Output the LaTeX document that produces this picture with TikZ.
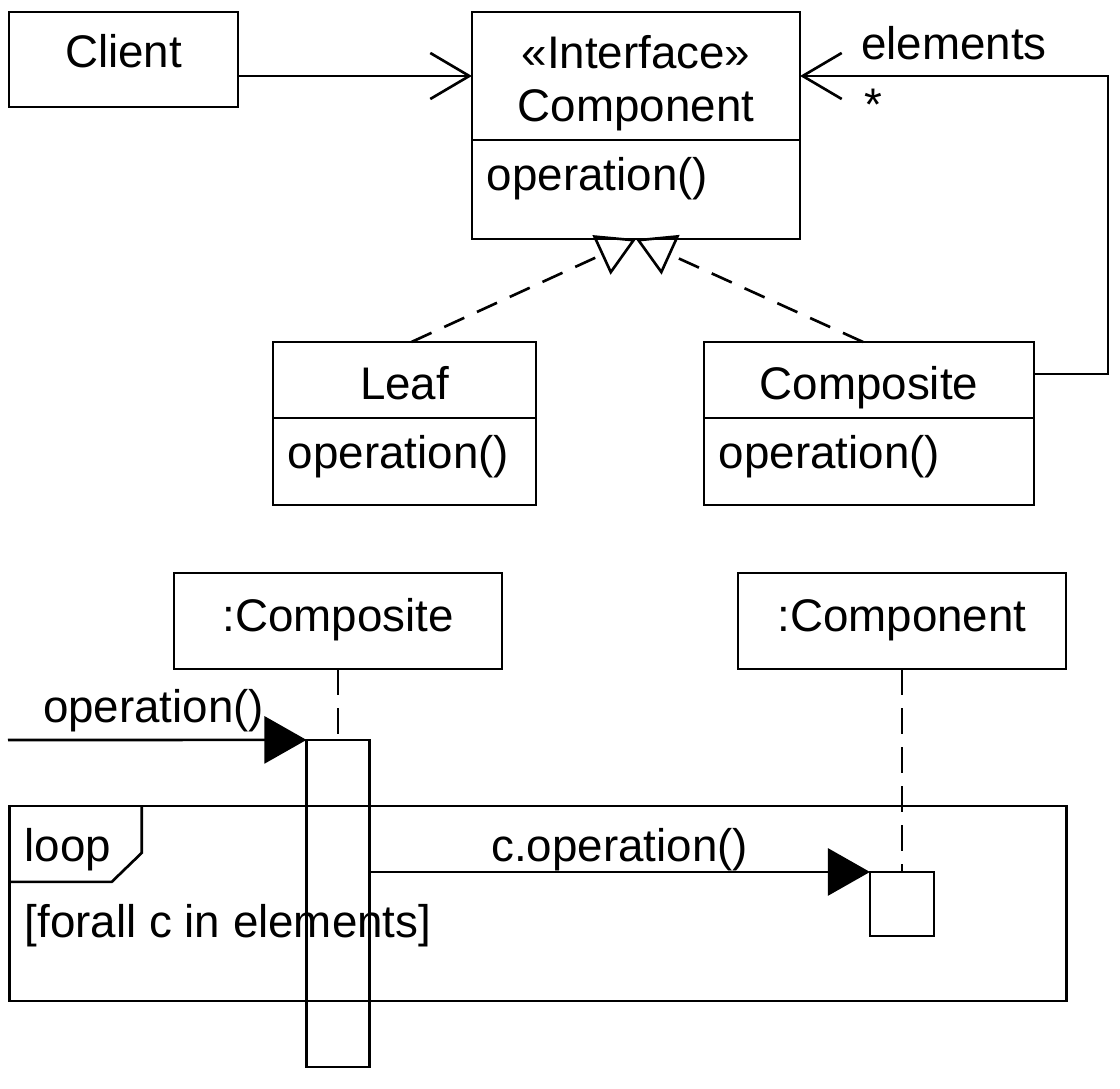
\documentclass[tikz,border=0pt]{standalone}
\usepackage{fontspec}
\setmainfont{Liberation Sans}
\usetikzlibrary{positioning,calc,arrows.meta}

\begin{document}
\begin{tikzpicture}[x=0.01cm, y=-0.01cm, line width=0.75pt, font=\fontsize{13}{15}\selectfont]
    % Styles
    \tikzstyle{classhead} = [draw, rectangle, outer sep=0pt, inner ysep=0pt, align=center, text height=0.33cm]
    \tikzstyle{classbody} = [draw, rectangle, outer sep=0pt, inner ysep=0pt, inner xsep=0.15cm, align=left, text height=0.33cm, text depth=0.2cm]
    \tikzstyle{lifehead} = [draw, rectangle, outer sep=0pt, inner ysep=0pt, minimum width=3.28cm, minimum height=0.96cm, text height=0.33cm, text depth=0.12cm]
    \tikzstyle{activation} = [draw, rectangle, outer sep=0pt, minimum width=0.63cm]
    \tikzstyle{realize} = [dash pattern=on 2.2mm off 1.4mm, -{Triangle[open, length=3.8mm, width=4.3mm]}]
    \tikzstyle{assoc} = [-{Straight Barb[length=3.9mm, width=4.6mm]}]
    \tikzstyle{message} = [-{Triangle[length=4.2mm, width=4.7mm]}]
    \tikzstyle{lifeline} = [dash pattern=on 2.6mm off 1.3mm]

    \useasboundingbox (0,0) rectangle (1120,1089);

    % Classes
    \node [classhead, minimum width=2.29cm, minimum height=0.95cm, text depth=0.16cm] (Client) at (123.5,59.5) {Client};
    \node [classhead, minimum width=3.28cm, minimum height=1.28cm, text height=1.014cm, text depth=0.1cm] (CompHead) at (636,76) {«Interface»\\Component};
    \node [classbody, below=0pt of CompHead, minimum width=3.28cm, text width=2.98cm, minimum height=0.99cm, text depth=0.32cm] (CompBody) {operation()};

    \node [classhead, minimum width=2.63cm, minimum height=0.76cm, text height=0.4cm, text depth=0cm] (LeafHead) at (404.5,380) {Leaf};
    \node [classbody, below=0pt of LeafHead, minimum width=2.63cm, text width=2.33cm, minimum height=0.87cm] (LeafBody) {operation()};

    \node [classhead, minimum width=3.3cm, minimum height=0.76cm, text height=0.4cm, text depth=0cm] (CompositeHead) at (869,380) {Composite};
    \node [classbody, below=0pt of CompositeHead, minimum width=3.3cm, text width=3cm, minimum height=0.87cm] (CompositeBody) {operation()};

    % Lifelines
    \node [lifehead] (SeqComposite) at (338,621) {:Composite};
    \node [lifehead] (SeqComponent) at (902,621) {:Component};
    \node [activation, minimum height=3.27cm] (Act1) at (338,903.5) {};
    \node [activation, minimum width=0.64cm, minimum height=0.64cm] (Act2) at (902,904) {};
    \coordinate (Found) at (8,740);

    % Loop fragment
    \node [draw, rectangle, outer sep=0pt, minimum width=10.56cm, minimum height=1.95cm] (Loop) at (538,903.5) {};
    \draw ($(Loop.north west)+(132,0)$) -- ++(0,47) -- ++(-30,29) -- ++(-102,0);
    \node [anchor=base west] (LoopName) at ($(Loop.north west)+(2,56)$) {loop};
    \node [anchor=base west] (LoopGuard) at ($(Loop.north west)+(2,132)$) {[forall c in elements]};

    % Edges
    \draw [assoc] (Client.east |- CompHead.west) -- (CompHead.west);
    \draw [assoc] ([yshift=0.06cm]CompositeHead.east) -- ++(74,0) |- (CompHead.east)
        node[pos=1, anchor=base west, xshift=0.48cm, yshift=0.16cm] {elements}
        node[pos=1, anchor=base west, xshift=0.51cm, yshift=-0.44cm] {*};
    \draw [realize] ([xshift=0.07cm]LeafHead.north) -- (CompBody.south);
    \draw [realize] ([xshift=-0.06cm]CompositeHead.north) -- (CompBody.south);

    % Messages
    \draw [lifeline] (SeqComposite.south) -- (Act1.north);
    \draw [lifeline] (SeqComponent.south) -- (Act2.north);
    \draw [message] (Found) -- node[pos=0, anchor=base west, xshift=0.22cm, yshift=0.17cm] {operation()} (Act1.north west);
    \draw [message] (Act1.east |- Act2.north) -- node[midway, anchor=base, yshift=0.1cm] {c.operation()} (Act2.north west);

\end{tikzpicture}
\end{document}
